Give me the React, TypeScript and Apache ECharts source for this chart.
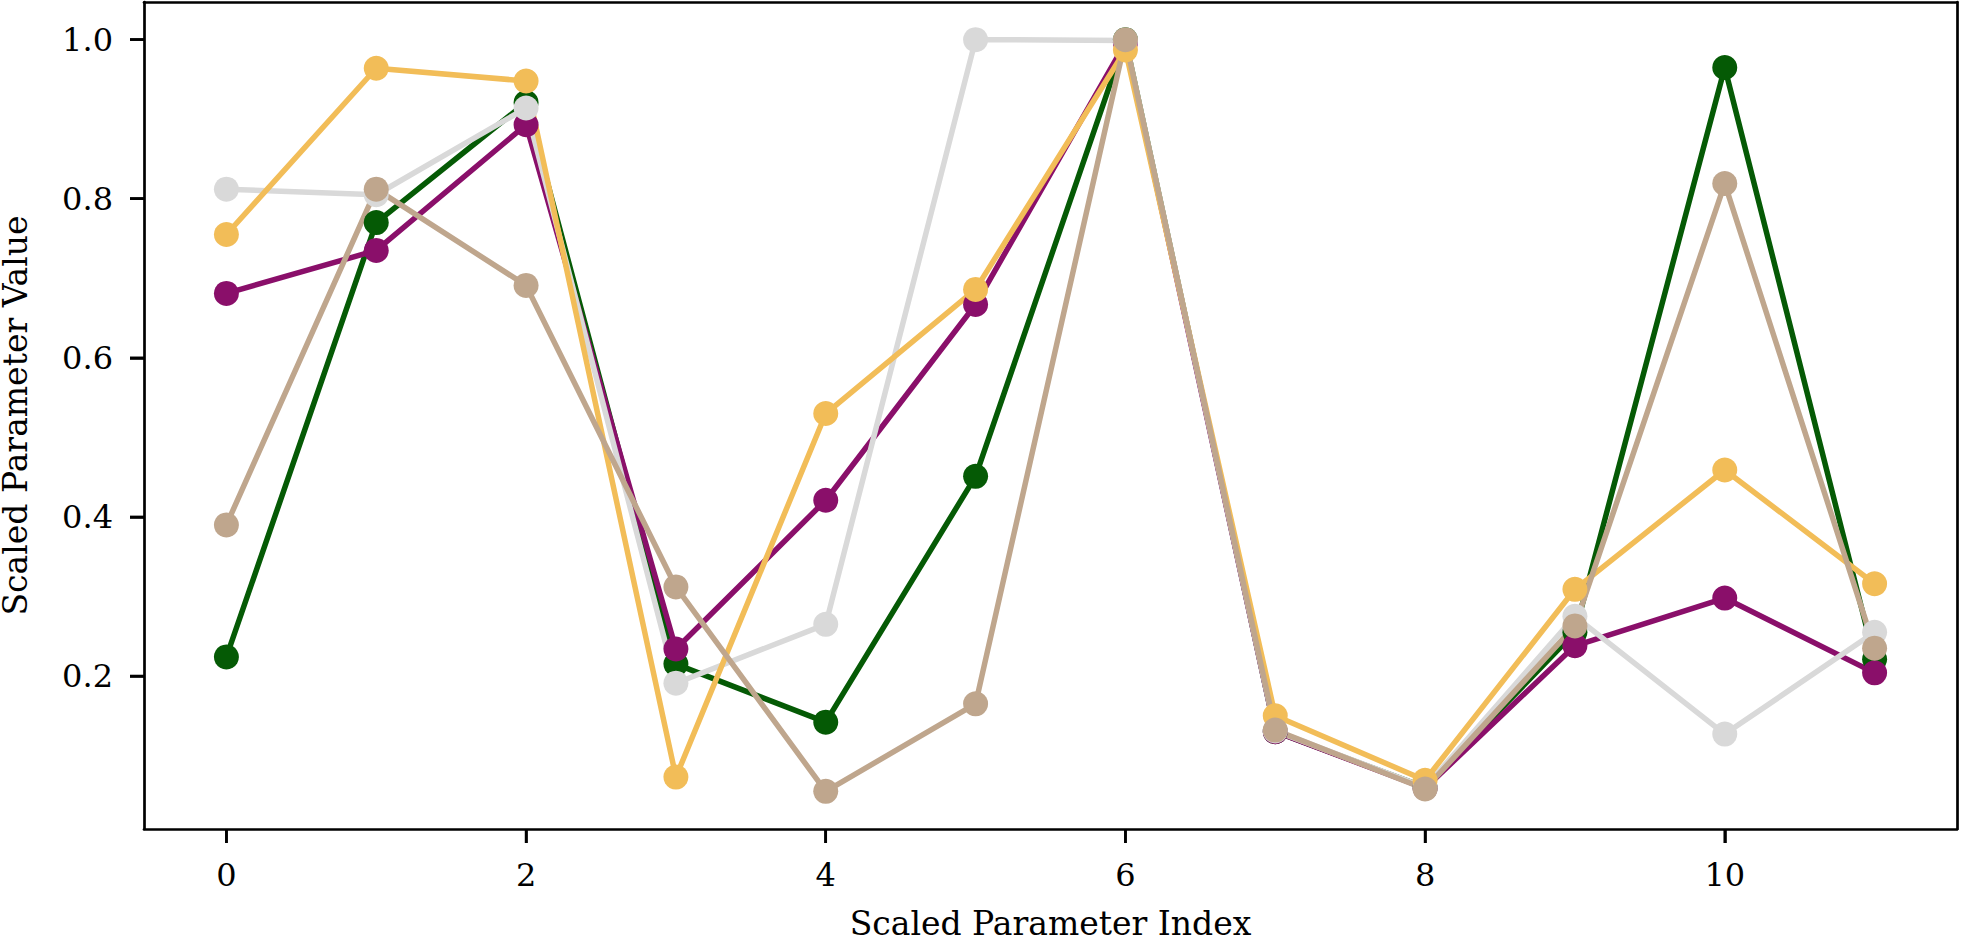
import React, { useEffect, useRef } from "react";
import * as echarts from "echarts";

const xIndices = [0, 1, 2, 3, 4, 5, 6, 7, 8, 9, 10, 11];
const xTickValues = [0, 2, 4, 6, 8, 10];
const yTickValues = [0.2, 0.4, 0.6, 0.8, 1.0];

const greenValues = [0.224, 0.770, 0.921, 0.215, 0.142, 0.451, 1.0, 0.130, 0.060, 0.255, 0.965, 0.221];
const purpleValues = [0.681, 0.735, 0.893, 0.234, 0.421, 0.667, 0.996, 0.130, 0.059, 0.238, 0.298, 0.204];
const grayValues = [0.812, 0.805, 0.914, 0.191, 0.265, 1.0, 0.999, 0.131, 0.060, 0.275, 0.127, 0.255];
const yellowValues = [0.755, 0.964, 0.948, 0.073, 0.530, 0.686, 0.987, 0.150, 0.069, 0.309, 0.459, 0.316];
const tanValues = [0.390, 0.812, 0.691, 0.312, 0.055, 0.165, 1.0, 0.132, 0.058, 0.263, 0.819, 0.235];

const seriesList = [
  { name: "A", values: greenValues, color: "#055a05" },
  { name: "B", values: purpleValues, color: "#8a0f6a" },
  { name: "C", values: grayValues, color: "#d9d9d9" },
  { name: "D", values: yellowValues, color: "#f2bd58" },
  { name: "E", values: tanValues, color: "#bfa68d" },
];

const FONT = "'DejaVu Serif', serif";
const Y_MIN = 0.0077;
const Y_MAX = 1.0473;
const X_MIN = -0.55;
const X_MAX = 11.55;
const TICK_LEN = 14;
const TICK_W = 2.6;
const FRAME_W = 2.7;

export default function App() {
  const ref = useRef<HTMLDivElement>(null);
  useEffect(() => {
    if (!ref.current) return;
    const chart = echarts.init(ref.current, null, { renderer: "svg" });
    const frameAxis = { show: true, onZero: false, lineStyle: { color: "#000", width: FRAME_W } };
    chart.setOption({
      animation: false,
      grid: {
        left: 144,
        right: 4,
        top: 2,
        bottom: 112,
        show: false,
        containLabel: false,
        outerBoundsMode: "none",
      },
      xAxis: [
        {
          type: "value",
          position: "bottom",
          min: X_MIN,
          max: X_MAX,
          name: "Scaled Parameter Index",
          nameLocation: "middle",
          nameGap: 78,
          nameTextStyle: { fontFamily: FONT, fontSize: 33, color: "#000" },
          axisLine: frameAxis,
          splitLine: { show: false },
          axisTick: {
            show: true,
            inside: false,
            length: TICK_LEN,
            lineStyle: { color: "#000", width: TICK_W },
            customValues: xTickValues,
          },
          axisLabel: {
            show: true,
            margin: 30,
            fontFamily: FONT,
            fontSize: 32,
            color: "#000",
            customValues: xTickValues,
            formatter: (v: number) => String(Math.round(v)),
          },
        },
        {
          type: "value",
          position: "top",
          min: X_MIN,
          max: X_MAX,
          axisLine: frameAxis,
          axisTick: { show: false },
          axisLabel: { show: false },
          splitLine: { show: false },
        },
      ],
      yAxis: [
        {
          type: "value",
          position: "left",
          min: Y_MIN,
          max: Y_MAX,
          name: "Scaled Parameter Value",
          nameLocation: "middle",
          nameGap: 112,
          nameTextStyle: { fontFamily: FONT, fontSize: 33, color: "#000" },
          axisLine: frameAxis,
          splitLine: { show: false },
          axisTick: {
            show: true,
            inside: false,
            length: TICK_LEN,
            lineStyle: { color: "#000", width: TICK_W },
            customValues: yTickValues,
          },
          axisLabel: {
            show: true,
            margin: 31,
            fontFamily: FONT,
            fontSize: 32,
            color: "#000",
            customValues: yTickValues,
            formatter: (v: number) => v.toFixed(1),
          },
        },
        {
          type: "value",
          position: "right",
          min: Y_MIN,
          max: Y_MAX,
          axisLine: frameAxis,
          axisTick: { show: false },
          axisLabel: { show: false },
          splitLine: { show: false },
        },
      ],
      series: seriesList.map((s) => ({
        name: s.name,
        type: "line",
        xAxisIndex: 0,
        yAxisIndex: 0,
        data: xIndices.map((x, i) => [x, s.values[i]]),
        symbol: "circle",
        symbolSize: 25,
        showSymbol: true,
        lineStyle: { color: s.color, width: 5.5 },
        itemStyle: { color: s.color },
        emphasis: { disabled: true },
        clip: false,
        z: 2,
      })),
    });

    // Backup tick marks at the same positions, placed via the chart's own scales
    const tickEls: any[] = [];
    xTickValues.forEach((v) => {
      const p = chart.convertToPixel({ xAxisIndex: 0, yAxisIndex: 0 }, [v, Y_MIN]) as number[];
      if (p && isFinite(p[0]) && isFinite(p[1])) {
        tickEls.push({
          type: "line",
          silent: true,
          z: 100,
          shape: { x1: p[0], y1: p[1], x2: p[0], y2: p[1] + TICK_LEN },
          style: { stroke: "#000", lineWidth: TICK_W, fill: null },
        });
      }
    });
    yTickValues.forEach((v) => {
      const p = chart.convertToPixel({ xAxisIndex: 0, yAxisIndex: 0 }, [X_MIN, v]) as number[];
      if (p && isFinite(p[0]) && isFinite(p[1])) {
        tickEls.push({
          type: "line",
          silent: true,
          z: 100,
          shape: { x1: p[0], y1: p[1], x2: p[0] - TICK_LEN, y2: p[1] },
          style: { stroke: "#000", lineWidth: TICK_W, fill: null },
        });
      }
    });
    chart.setOption({ graphic: { elements: tickEls } });

    return () => chart.dispose();
  }, []);
  return (
    <div
      ref={ref}
      style={{ position: "absolute", left: 0, top: 0, width: 1961, height: 941, background: "#ffffff" }}
    />
  );
}
